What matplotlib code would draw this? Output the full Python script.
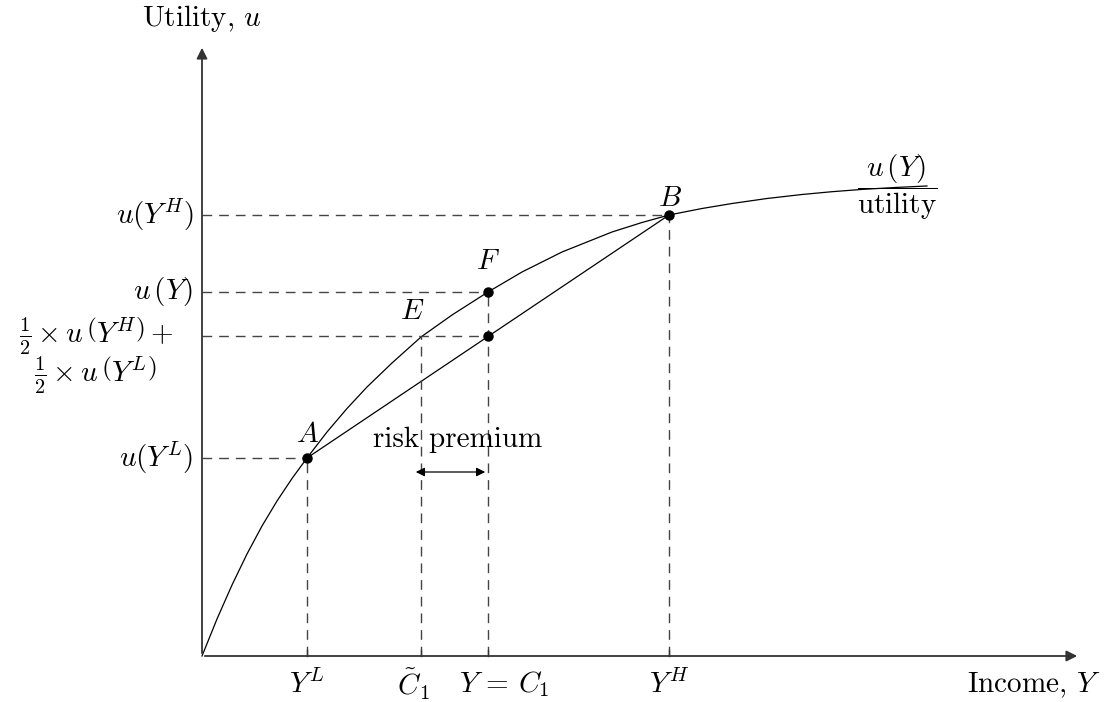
import matplotlib
matplotlib.use('Agg')
import matplotlib.pyplot as plt

# utility curve (income, utility)
curve_x = [0, 15, 30, 45, 60, 75, 90, 105, 125, 145, 165, 190, 219, 250, 286,
           320, 360, 410, 440, 467, 500, 530, 565, 600, 630, 660, 695, 725]
curve_y = [0, 37, 71, 102, 130, 155, 177.5, 198, 224, 247.5, 269, 293, 319, 341, 364,
           384, 404, 424, 433.5, 441, 447.5, 452.5, 457.5, 461.5, 464.3, 466.6, 468.6, 470]

# incomes: Y^L, C~1, Y=C1, Y^H
incomes = [105, 219, 286, 467]
income_labels = [r'$Y^L$', r'$\tilde{C}_1$', r'$Y$ = $C_1$', r'$Y^H$']
label_shift = [0, -8, 16, 0]  # labels sit a little off their ticks in the original

# utility levels: u(Y^L), expected utility, u(Y), u(Y^H)
utils = [198, 320, 364, 441]
util_labels = [r'$u(Y^L)$',
               r'$\frac{1}{2}\times u\,\left(Y^H\right)+$' + '\n' + r'$\frac{1}{2}\times u\,\left(Y^L\right)$',
               r'$u\,(Y)$', r'$u(Y^H)$']

plt.rcParams['mathtext.fontset'] = 'cm'
plt.rcParams['font.family'] = 'cmr10'
plt.rcParams['axes.unicode_minus'] = False
fs = 21

fig = plt.figure(figsize=(11.15, 7.02), dpi=100)
ax = fig.add_axes([0, 0, 1, 1])
ax.set_xlim(-202, 913)
ax.set_ylim(-46, 656)
ax.axis('off')

# axes with arrows
ax.annotate('', xy=(878, 0), xytext=(0, 0),
            arrowprops=dict(arrowstyle='-|>', color='#333333', lw=1.3, mutation_scale=16))
ax.annotate('', xy=(0, 611), xytext=(0, 0),
            arrowprops=dict(arrowstyle='-|>', color='#333333', lw=1.3, mutation_scale=16))

# utility curve and chord A-B
ax.plot(curve_x, curve_y, color='black', lw=0.9)
ax.plot([incomes[0], incomes[3]], [utils[0], utils[3]], color='black', lw=0.9)

dash = dict(color='#444444', lw=1.0, dashes=(7, 5))
# horizontal guides to the y-axis
ax.plot([0, incomes[0]], [utils[0], utils[0]], **dash)
ax.plot([0, incomes[2]], [utils[1], utils[1]], **dash)
ax.plot([0, incomes[2]], [utils[2], utils[2]], **dash)
ax.plot([0, incomes[3]], [utils[3], utils[3]], **dash)
# vertical guides to the x-axis
ax.plot([incomes[0], incomes[0]], [0, utils[0]], **dash)
ax.plot([incomes[1], incomes[1]], [0, utils[1]], **dash)
ax.plot([incomes[2], incomes[2]], [0, utils[2]], **dash)
ax.plot([incomes[3], incomes[3]], [0, utils[3]], **dash)

# small ticks on the x-axis
for xi in incomes:
    ax.plot([xi, xi], [0, 6], color='#333333', lw=1.0)

# dots A, F, chord midpoint, B
ax.plot([incomes[0], incomes[2], incomes[2], incomes[3]],
        [utils[0], utils[2], utils[1], utils[3]],
        'o', color='black', ms=6.5, zorder=5)

# point letters
ax.text(incomes[0] + 1, utils[0] + 23, r'$A$', fontsize=fs, ha='center', va='center')
ax.text(incomes[3] + 1, utils[3] + 16, r'$B$', fontsize=fs, ha='center', va='center')
ax.text(incomes[2], utils[2] + 30, r'$F$', fontsize=fs, ha='center', va='center')
ax.text(incomes[1] - 9, utils[1] + 24, r'$E$', fontsize=fs, ha='center', va='center')

# x labels
for xi, dx, lab in zip(incomes, label_shift, income_labels):
    ax.text(xi + dx, -28, lab, fontsize=fs, ha='center', va='center')
ax.text(832, -29, r'Income, $Y$', fontsize=fs, ha='center', va='center')

# y labels
for yi, lab in zip(utils, util_labels):
    if '\n' in lab:
        top, bot = lab.split('\n')
        ax.text(-106, yi, top, fontsize=fs, ha='center', va='center')
        ax.text(-107, yi - 39, bot, fontsize=fs, ha='center', va='center')
    else:
        ax.text(-9, yi, lab, fontsize=fs, ha='right', va='center')
ax.text(0, 638, r'Utility, $u$', fontsize=fs, ha='center', va='center')

# curve label
ax.text(695, 469, r'$\dfrac{u\,(Y)}{\mathrm{utility}}$', fontsize=fs, ha='center', va='center')

# risk premium
ax.text(256, 216, 'risk premium', fontsize=fs, ha='center', va='center')
ax.annotate('', xy=(211, 184), xytext=(286, 184),
            arrowprops=dict(arrowstyle='<|-|>', color='black', lw=0.9, mutation_scale=13))

fig.savefig('out.png', dpi=100)
